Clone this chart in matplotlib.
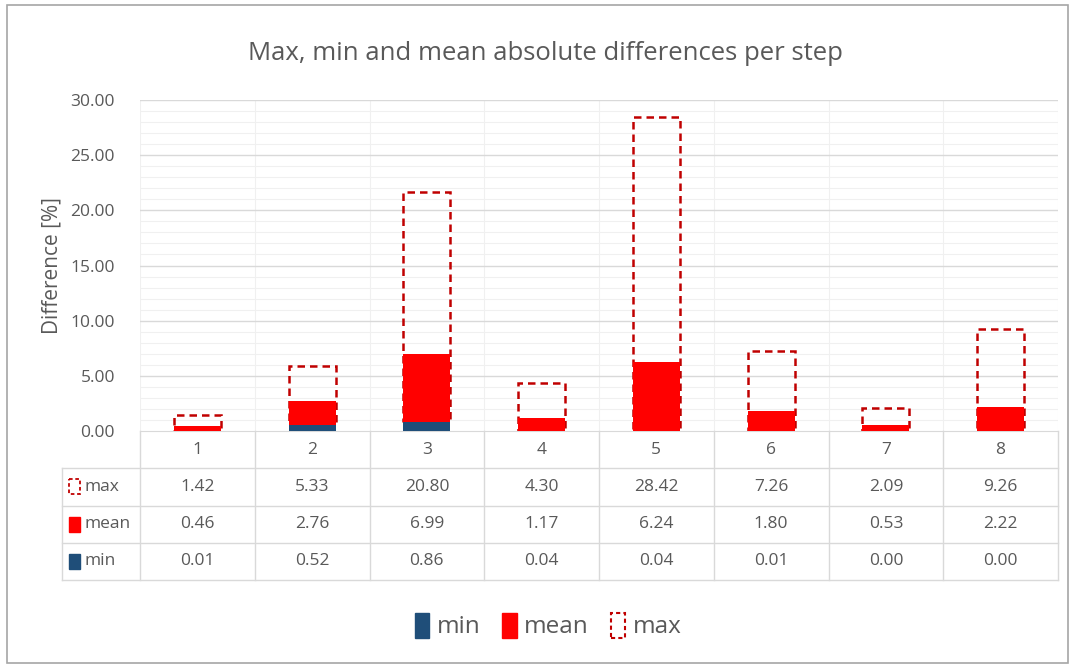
import matplotlib
matplotlib.use("Agg")
import matplotlib.pyplot as plt
from matplotlib.patches import Patch, Rectangle
import numpy as np

steps = ["1", "2", "3", "4", "5", "6", "7", "8"]
max_vals = [1.42, 5.33, 20.80, 4.30, 28.42, 7.26, 2.09, 9.26]
mean_vals = [0.46, 2.76, 6.99, 1.17, 6.24, 1.80, 0.53, 2.22]
min_vals = [0.01, 0.52, 0.86, 0.04, 0.04, 0.01, 0.00, 0.00]
row_labels = ["max", "mean", "min"]
yticks = [0, 5, 10, 15, 20, 25, 30]

BLUE = "#1F4E79"
RED = "#FF0000"
DRED = "#C00000"
GRAY = "#595959"
GRID = "#D9D9D9"
MINOR = "#F0F0F0"

plt.rcParams['font.family'] = ['Open Sans', 'DejaVu Sans']

W, H = 1079, 666
fig = plt.figure(figsize=(W / 100, H / 100), dpi=100)

def fx(px):
    return px / W

def fy(py):
    return 1 - py / H

# outer border
fig.patches.append(Rectangle((fx(7), fy(663)), fx(1068) - fx(7), fy(5) - fy(663),
                             transform=fig.transFigure, fill=False,
                             edgecolor="#A6A6A6", linewidth=1.2))

L, R, T, B = 140, 1058, 100, 431
ax = fig.add_axes([fx(L), fy(B), fx(R) - fx(L), fy(T) - fy(B)])
x = np.arange(len(steps))
bw = 0.41

# grid lines beneath the bars
for v in np.arange(0, 31, 1):
    if v % 5:
        ax.axhline(v, color=MINOR, linewidth=0.8, zorder=0.1)
for v in yticks[1:]:
    ax.axhline(v, color=GRID, linewidth=1, zorder=0.2)
for b in np.arange(-0.5, len(steps), 1.0):
    ax.axvline(b, color=MINOR, linewidth=0.8, zorder=0.1)

ax.bar(x, max_vals, width=bw, bottom=min_vals, facecolor="none", edgecolor=DRED,
       linestyle=(0, (3, 2)), linewidth=1.8, zorder=8)
ax.bar(x, mean_vals, width=bw, color=RED, linewidth=0, zorder=10)
ax.bar(x, min_vals, width=bw, color=BLUE, linewidth=0, zorder=11)

ax.set_xlim(-0.5, len(steps) - 0.5)
ax.set_ylim(0, 30)
ax.set_yticks(yticks)
ax.set_yticklabels([f"{v:.2f}" for v in yticks], color=GRAY, fontsize=12.5)
ax.tick_params(axis='y', which='both', length=0, pad=18)
ax.set_xticks([])
for s in ["top", "right", "left"]:
    ax.spines[s].set_visible(False)
ax.spines["bottom"].set_color(GRID)
ax.set_ylabel("Difference [%]", color=GRAY, fontsize=15, labelpad=6)

fig.text(fx(545), fy(53), "Max, min and mean absolute differences per step",
         color=GRAY, fontsize=18.5, ha="center", va="center")

# data table
TL, TB = 62, 580
tax = fig.add_axes([fx(TL), fy(TB), fx(R) - fx(TL), fy(B) - fy(TB)])
left_x = -0.5 - (L - TL) * len(steps) / (R - L)
tax.set_xlim(left_x, len(steps) - 0.5)
tax.set_ylim(4, 0)
tax.axis("off")

for yy in [1, 2, 3, 4]:
    tax.plot([left_x, len(steps) - 0.5], [yy, yy], color=GRID, lw=1, clip_on=False)
for b in np.arange(-0.5, len(steps), 1.0):
    tax.plot([b, b], [0, 4], color=GRID, lw=1, clip_on=False)
tax.plot([left_x, left_x], [1, 4], color=GRID, lw=1, clip_on=False)

FS = 12.5
for i, s in enumerate(steps):
    tax.text(i, 0.5, s, ha="center", va="center", color=GRAY, fontsize=FS)
    tax.text(i, 1.5, f"{max_vals[i]:.2f}", ha="center", va="center", color=GRAY, fontsize=FS)
    tax.text(i, 2.5, f"{mean_vals[i]:.2f}", ha="center", va="center", color=GRAY, fontsize=FS)
    tax.text(i, 3.5, f"{min_vals[i]:.2f}", ha="center", va="center", color=GRAY, fontsize=FS)

unit = len(steps) / (R - L)
key_x = left_x + 7 * unit
key_w = 11 * unit
text_x = left_x + 22 * unit
styles = [dict(fill=False, edgecolor=DRED, linestyle=(0, (2, 1.5)), linewidth=1.3),
          dict(facecolor=RED, edgecolor=RED),
          dict(facecolor=BLUE, edgecolor=BLUE)]
for r, (lab, st) in enumerate(zip(row_labels, styles)):
    yc = 1.5 + r
    tax.add_patch(Rectangle((key_x, yc - 0.2), key_w, 0.4, clip_on=False, **st))
    tax.text(text_x, yc, lab, ha="left", va="center", color=GRAY, fontsize=FS)

handles = [Patch(facecolor=BLUE, edgecolor=BLUE, label="min"),
           Patch(facecolor=RED, edgecolor=RED, label="mean"),
           Patch(fill=False, edgecolor=DRED, linestyle=(0, (2, 1.5)), linewidth=1.5, label="max")]
leg = fig.legend(handles=handles, loc="center", bbox_to_anchor=(fx(548), fy(626)),
                 ncol=3, frameon=False, fontsize=17.5, handlelength=0.6, handleheight=1.2,
                 handletextpad=0.3, columnspacing=0.9)
for t in leg.get_texts():
    t.set_color(GRAY)

fig.savefig("out.png", dpi=100)
